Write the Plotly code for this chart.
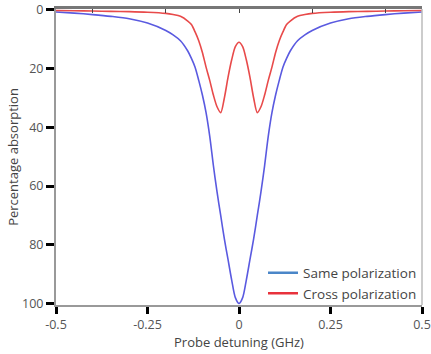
import plotly.graph_objects as go

# Probe detuning (GHz), one side; curves are symmetric about 0
x_half = [0.0, 0.01, 0.02, 0.03, 0.04, 0.05, 0.06, 0.07, 0.08, 0.09, 0.10, 0.11, 0.12,
          0.13, 0.14, 0.16, 0.18, 0.20, 0.25, 0.30, 0.35, 0.40, 0.45, 0.50]
same_half = [100, 98, 92, 85, 78, 70, 62, 53, 43, 35, 29, 24, 19.5,
             16.5, 14, 10.5, 8.5, 7, 4.5, 3, 2.2, 1.6, 1.1, 0.7]
cross_half = [11, 12.5, 17, 23, 30, 35, 33, 29, 24, 19.5, 14.5, 10.5, 7.5,
              5, 3.8, 2.2, 1.6, 1.2, 0.8, 0.6, 0.5, 0.4, 0.3, 0.2]

x_ticks = [-0.5, -0.25, 0, 0.25, 0.5]
x_tick_labels = ["-0.5", "-0.25", "0", "0.25", "0.5"]
y_ticks = [0, 20, 40, 60, 80, 100]

x_full = [-v for v in x_half[::-1]] + x_half[1:]
same_full = same_half[::-1] + same_half[1:]
cross_full = cross_half[::-1] + cross_half[1:]

fig = go.Figure()
fig.add_trace(go.Scatter(x=x_full, y=same_full, mode="lines", showlegend=False,
                         line=dict(color="#5a5ae0", width=1.6, shape="spline", smoothing=0.8)))
fig.add_trace(go.Scatter(x=x_full, y=cross_full, mode="lines", showlegend=False,
                         line=dict(color="#e84a4a", width=1.6, shape="spline", smoothing=0.8)))
# legend entries
fig.add_trace(go.Scatter(x=[None], y=[None], mode="lines", name="Same polarization",
                         line=dict(color="#4a86c8", width=2.5)))
fig.add_trace(go.Scatter(x=[None], y=[None], mode="lines", name="Cross polarization",
                         line=dict(color="#e8323c", width=2.5)))
# dummy trace to show the top axis
fig.add_trace(go.Scatter(x=[None], y=[None], xaxis="x2", showlegend=False, hoverinfo="skip"))

fig.update_layout(
    width=431, height=354,
    margin=dict(l=56, r=9, t=9, b=49, autoexpand=False),
    paper_bgcolor="white", plot_bgcolor="white",
    font=dict(family="Open Sans", size=12, color="#444"),
    xaxis=dict(range=[-0.5, 0.5], tickvals=x_ticks, ticktext=x_tick_labels, automargin=False,
               ticks="outside", ticklen=7, tickwidth=2.5, tickcolor="black",
               showline=True, linecolor="#999", linewidth=2, showgrid=False, zeroline=False,
               title=dict(text="Probe detuning (GHz)", font=dict(size=13, color="#444"), standoff=3),
               tickfont=dict(size=12.5, color="#555")),
    xaxis2=dict(range=[-0.5, 0.5], overlaying="x", side="top", anchor="y", automargin=False,
                dtick=0.2, tick0=0, ticks="inside", ticklen=4, tickwidth=1, tickcolor="#444",
                showticklabels=False, showline=True, linecolor="#777", linewidth=2.5,
                showgrid=False, zeroline=False),
    yaxis=dict(range=[100.5, -0.3], tickvals=y_ticks, automargin=False,
               ticks="outside", ticklen=8, tickwidth=2.5, tickcolor="black",
               showline=True, linecolor="#999", linewidth=2, showgrid=False, zeroline=False,
               title=dict(text="Percentage absorption", font=dict(size=13, color="#444"), standoff=0),
               tickfont=dict(size=12.5, color="#555")),
    legend=dict(x=1.0, y=-0.015, xanchor="right", yanchor="bottom", bgcolor="rgba(0,0,0,0)",
                font=dict(size=13.5, color="#444"), tracegroupgap=0, itemwidth=30,
                borderwidth=0),
    shapes=[dict(type="line", xref="paper", yref="paper", x0=1, x1=1, y0=0, y1=1,
                 line=dict(color="#bbb", width=1.5))],
)

fig.write_html("out.html")
